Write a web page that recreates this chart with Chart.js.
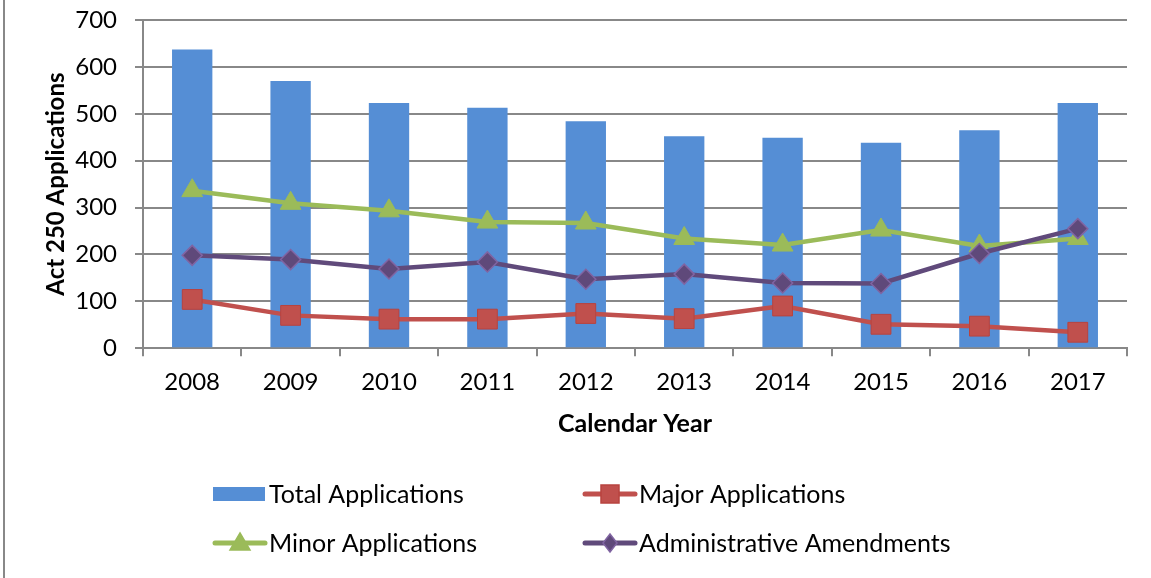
<!DOCTYPE html>
<html>
<head>
<meta charset="utf-8">
<script src="https://cdn.jsdelivr.net/npm/chart.js@4.4.1/dist/chart.umd.min.js"></script>
<style>
  html, body { margin: 0; padding: 0; background: #fff; }
  #wrap { position: relative; width: 1151px; height: 578px; }
  #frame { position: absolute; left: 3px; top: 0; width: 2px; height: 578px; background: #888; }
  canvas { position: absolute; left: 0; top: 0; }
</style>
</head>
<body>
<div id="wrap">
  <canvas id="chart" width="1151" height="578"></canvas>
  <div id="frame"></div>
</div>
<script>
const years = ['2008', '2009', '2010', '2011', '2012', '2013', '2014', '2015', '2016', '2017'];
const totalApps = [637, 570, 523, 513, 484, 452, 449, 438, 465, 523];
const majorApps = [104, 70, 62, 62, 74, 63, 90, 51, 47, 34];
const minorApps = [336, 309, 293, 269, 267, 234, 220, 252, 218, 234];
const adminAmend = [198, 189, 169, 184, 147, 158, 139, 138, 202, 255];
const yTicks = [0, 100, 200, 300, 400, 500, 600, 700];

const FONT = 'Lato, "Open Sans", sans-serif';

// legend drawn by hand so the two columns line up like the original
const legendPlugin = {
    id: 'twoColLegend',
    afterDraw(chart) {
        const ctx = chart.ctx;
        const cols = [213, 583];
        const rows = [494, 543];
        ctx.save();
        ctx.font = '25px ' + FONT;
        ctx.textBaseline = 'middle';
        ctx.fillStyle = '#000';
        chart.data.datasets.forEach((ds, i) => {
            const x = cols[i % 2];
            const y = rows[Math.floor(i / 2)];
            if (ds.type === 'bar') {
                ctx.fillStyle = ds.backgroundColor;
                ctx.fillRect(x, y - 7, 52, 14);
            } else {
                ctx.strokeStyle = ds.borderColor;
                ctx.lineWidth = 5;
                ctx.lineCap = 'round';
                ctx.beginPath();
                ctx.moveTo(x + 2, y);
                ctx.lineTo(x + 52, y);
                ctx.stroke();
                ctx.fillStyle = ds.pointBackgroundColor;
                ctx.strokeStyle = ds.pointBorderColor;
                ctx.lineWidth = 1.5;
                const cx = x + 27;
                ctx.beginPath();
                if (ds.pointStyle === 'rect') {
                    ctx.rect(cx - 9, y - 9, 18, 18);
                } else if (ds.pointStyle === 'triangle') {
                    ctx.moveTo(cx, y - 10);
                    ctx.lineTo(cx + 10, y + 7);
                    ctx.lineTo(cx - 10, y + 7);
                    ctx.closePath();
                } else {
                    ctx.moveTo(cx, y - 9);
                    ctx.lineTo(cx + 7, y);
                    ctx.lineTo(cx, y + 9);
                    ctx.lineTo(cx - 7, y);
                    ctx.closePath();
                }
                ctx.fill();
                ctx.stroke();
            }
            ctx.fillStyle = '#000';
            ctx.fillText(ds.label, x + 56, y + 1);
        });
        ctx.restore();
    }
};

new Chart(document.getElementById('chart'), {
    data: {
        labels: years,
        datasets: [
            {
                type: 'bar',
                label: 'Total Applications',
                data: totalApps,
                backgroundColor: '#558ED5',
                barPercentage: 0.41,
                categoryPercentage: 1.0,
                order: 10
            },
            {
                type: 'line',
                label: 'Major Applications',
                data: majorApps,
                borderColor: '#C0504D',
                borderWidth: 4.5,
                pointStyle: 'rect',
                pointRadius: 14,
                pointBackgroundColor: '#C0504D',
                pointBorderColor: '#B8433F',
                pointBorderWidth: 1,
                tension: 0,
                order: 1
            },
            {
                type: 'line',
                label: 'Minor Applications',
                data: minorApps,
                borderColor: '#9BBB59',
                borderWidth: 4.5,
                pointStyle: 'triangle',
                pointRadius: 12,
                pointBackgroundColor: '#9BBB59',
                pointBorderColor: '#9BBB59',
                pointBorderWidth: 1,
                tension: 0,
                order: 3
            },
            {
                type: 'line',
                label: 'Administrative Amendments',
                data: adminAmend,
                borderColor: '#604A7B',
                borderWidth: 4.5,
                pointStyle: 'rectRot',
                pointRadius: 10,
                pointBackgroundColor: '#5F497A',
                pointBorderColor: '#8064A2',
                pointBorderWidth: 1.5,
                tension: 0,
                order: 2
            }
        ]
    },
    options: {
        responsive: false,
        animation: false,
        layout: { padding: { left: 42, right: 24, top: 20, bottom: 139 } },
        plugins: {
            legend: { display: false },
            tooltip: { enabled: false }
        },
        scales: {
            x: {
                offset: true,
                grid: {
                    offset: true,
                    drawOnChartArea: false,
                    drawTicks: true,
                    tickLength: 8,
                    color: '#888',
                    lineWidth: 2
                },
                border: { color: '#888', width: 2 },
                ticks: { color: '#000', font: { family: FONT, size: 24 }, padding: 12 },
                title: {
                    display: true,
                    text: 'Calendar Year',
                    color: '#000',
                    font: { family: FONT, size: 25, weight: 'bold' },
                    padding: { top: 0, bottom: 0 }
                }
            },
            y: {
                min: 0,
                max: 700,
                afterBuildTicks: (axis) => { axis.ticks = yTicks.map(v => ({ value: v })); },
                afterFit: (axis) => {
                    axis.width = 101;
                    axis.paddingTop = 0;
                    axis.paddingBottom = 0;
                },
                grid: { color: '#888', lineWidth: 2, tickLength: 8 },
                border: { color: '#888', width: 2 },
                ticks: { color: '#000', font: { family: FONT, size: 24 }, padding: 18 },
                title: {
                    display: true,
                    text: 'Act 250 Applications',
                    color: '#000',
                    font: { family: FONT, size: 24, weight: 'bold' },
                    padding: { top: 0, bottom: 0 }
                }
            }
        }
    },
    plugins: [legendPlugin]
});
</script>
</body>
</html>
